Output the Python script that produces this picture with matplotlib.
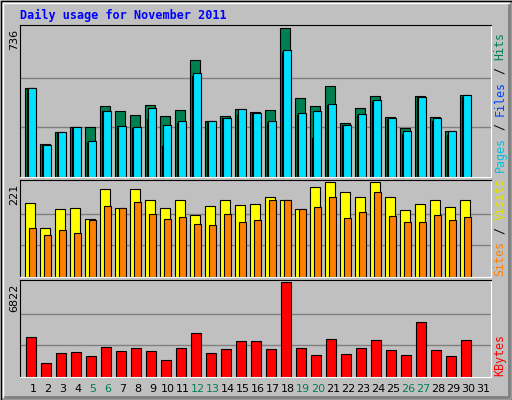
import numpy as np
import matplotlib
matplotlib.use("Agg")
import matplotlib.pyplot as plt
from matplotlib.patches import Rectangle

days = list(range(1, 32))
weekends = [5, 6, 12, 13, 19, 20, 26, 27]

hits = [440, 164, 224, 249, 249, 349, 324, 304, 355, 299, 329, 580, 279, 299, 335,
        320, 329, 736, 392, 349, 450, 266, 340, 400, 294, 244, 400, 294, 229, 405]
files = [440, 157, 219, 244, 174, 324, 254, 244, 284, 154, 269, 500, 279, 289, 304,
         314, 274, 619, 304, 194, 354, 259, 304, 374, 284, 214, 395, 279, 209, 395]
pages = [440, 159, 224, 249, 179, 324, 254, 249, 339, 259, 279, 515, 279, 289, 335,
         314, 279, 626, 314, 324, 359, 259, 309, 379, 289, 229, 395, 289, 229, 405]
visits = [173, 115, 159, 161, 134, 204, 161, 204, 180, 161, 178, 144, 166, 178, 168,
          170, 187, 180, 159, 209, 221, 197, 187, 221, 185, 156, 170, 180, 163, 180]
sites = [113, 98, 110, 103, 132, 166, 161, 175, 146, 134, 139, 123, 120, 146, 127,
         132, 178, 180, 159, 163, 185, 137, 152, 197, 142, 127, 127, 144, 132, 139]
kbytes = [2849, 975, 1724, 1799, 1499, 2174, 1874, 2099, 1874, 1199, 2099, 3149, 1724,
          2024, 2549, 2549, 2024, 6822, 2099, 1574, 2699, 1649, 2099, 2624, 1949, 1574,
          3974, 1949, 1499, 2624]

W, H = 512, 400
fig = plt.figure(figsize=(W / 100, H / 100), dpi=100, facecolor="#C0C0C0")
mono = "DejaVu Sans Mono"


def px_axes(x0, y0, x1, y1):
    return fig.add_axes([x0 / W, 1 - y1 / H, (x1 - x0) / W, (y1 - y0) / H])


# outer frame
frame = fig.add_axes([0, 0, 1, 1])
frame.set_xlim(0, W); frame.set_ylim(H, 0); frame.axis("off")
frame.add_patch(Rectangle((0.5, 0.5), W - 1, H - 1, fill=False, ec="black", lw=1))
frame.plot([W - 3, W - 3, 3], [3, H - 3, H - 3], color="#808080", lw=2)
frame.plot([3, 3, W - 3], [H - 3, 3, 3], color="white", lw=1)
frame.text(20, 15, "Daily usage for November 2011", color="#0000FF",
           fontfamily=mono, fontweight="bold", fontsize=8.5, va="center")

xlo, xhi = 0.133, 31.53
panels = [(25, 177), (180, 277), (280, 377)]


def setup(ax, top):
    ax.set_facecolor("#C0C0C0")
    ax.set_xlim(xlo, xhi)
    ax.set_ylim(0, top * 1.02)
    for g in (top / 3, 2 * top / 3):
        ax.axhline(g, color="#808080", lw=1, zorder=0)
    ax.set_xticks([]); ax.set_yticks([])
    for s in ax.spines.values():
        s.set_color("white")
    ax.spines["left"].set_color("black")
    ax.spines["top"].set_color("black")


def side_label(y_bottom, parts, x=500, size=8.4):
    cw = size * 100 / 72 * 0.602
    pos = 0
    for txt, col in parts:
        frame.text(x, y_bottom - pos * cw, txt, color=col, rotation=90,
                   fontfamily=mono, fontsize=size, ha="center", va="bottom")
        pos += len(txt)


d = np.array(days[:30])

ax1 = px_axes(20, 25, 491, 177)
setup(ax1, 736)
ax1.bar(d - 0.53, hits, width=0.63, align="edge", color="#008050", ec="black", lw=0.8)
ax1.bar(d - 0.40, files, width=0.55, align="edge", color="#0040FF", ec="black", lw=0.8)
ax1.bar(d - 0.33, pages, width=0.55, align="edge", color="#00E0FF", ec="black", lw=0.8)
frame.text(14, 29, "736", rotation=90, fontsize=8, ha="center", va="top")
side_label(172, [("Pages", "#00C0E0"), (" / ", "black"), ("Files", "#0040FF"),
                 (" / ", "black"), ("Hits", "#008050")])

ax2 = px_axes(20, 180, 491, 277)
setup(ax2, 221)
ax2.bar(d - 0.51, visits, width=0.61, align="edge", color="#FFFF00", ec="black", lw=0.8)
ax2.bar(d - 0.25, sites, width=0.47, align="edge", color="#FF8000", ec="black", lw=0.8)
frame.text(14, 184, "221", rotation=90, fontsize=8, ha="center", va="top")
side_label(276, [("Sites", "#FF8000"), (" / ", "black"), ("Visits", "#E0E000")])

ax3 = px_axes(20, 280, 491, 377)
setup(ax3, 6822)
ax3.bar(d - 0.45, kbytes, width=0.67, align="edge", color="#FF0000", ec="black", lw=0.8)
frame.text(14, 284, "6822", rotation=90, fontsize=8, ha="center", va="top")
side_label(376, [("KBytes", "#FF0000")])

for day in days:
    col = "#008050" if day in weekends else "black"
    frame.text(33 + 15 * (day - 1), 389, str(day), color=col, fontsize=8,
               ha="center", va="center")

fig.savefig("out.png", dpi=100, facecolor=fig.get_facecolor())
